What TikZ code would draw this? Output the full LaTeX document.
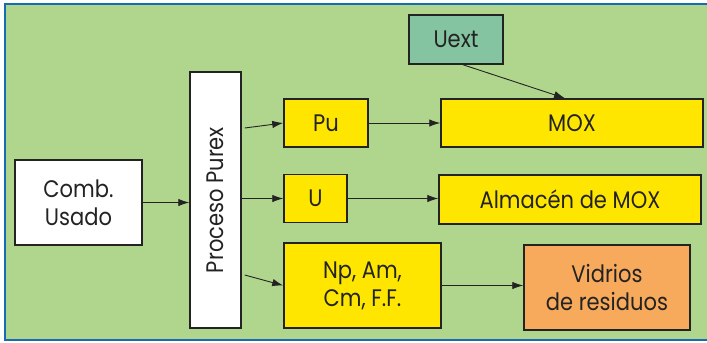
\documentclass[tikz,border=0pt]{standalone}
\usepackage{fontspec}
\setmainfont{Poppins}[FakeStretch=0.88]
\usepackage{tikz}
\usetikzlibrary{arrows.meta, positioning, calc}
\definecolor{bgFill}{RGB}{176,213,140}
\definecolor{frameBlue}{RGB}{22,108,178}
\definecolor{yellowFill}{RGB}{255,230,0}
\definecolor{orangeFill}{RGB}{248,170,92}
\definecolor{tealFill}{RGB}{132,196,160}
\definecolor{ink}{RGB}{35,35,35}
\tikzset{
  box/.style={
    draw=ink,
    line width=1.5bp,
    align=center,
    inner sep=0pt,
    font=\fontsize{24}{28}\selectfont,
    text=ink
  },
  whiteBox/.style={box, fill=white},
  yellowBox/.style={box, fill=yellowFill},
  orangeBox/.style={box, fill=orangeFill},
  tealBox/.style={box, fill=tealFill},
  flow/.style={-{Latex[length=11bp,width=7.5bp]}, line width=0.9bp, draw=ink}
}
\begin{document}
\begin{tikzpicture}[x=1bp, y=-1bp]
  \useasboundingbox (0,0) rectangle (707,342);
  \clip (0,0) rectangle (707,342);
  \draw[frameBlue, line width=2.5bp, fill=bgFill] (5,4) rectangle (720,340);

  \node[whiteBox, minimum width=127bp, minimum height=85bp] (comb) at (78.5,202.5) {Comb.\\Usado};
  \node[whiteBox, minimum width=51bp, minimum height=256bp] (purex) at (215.5,200) {};
  \node[box, draw=none, rotate=90] (purexText) at (purex.center) {Proceso Purex};

  \node[yellowBox, minimum width=84bp, minimum height=48bp] (pu) at (326,123) {Pu};
  \node[yellowBox, minimum width=63bp, minimum height=48bp] (u) at (315.5,198.5) {U};
  \node[yellowBox, minimum width=157bp, minimum height=85bp] (np) at (362.5,285.5) {Np, Am,\\Cm, F.F.};

  \node[tealBox, minimum width=94bp, minimum height=49bp] (uext) at (456,39.5) {Uext};
  \node[yellowBox, minimum width=262bp, minimum height=48bp] (mox) at (572,123) {MOX};
  \node[yellowBox, minimum width=262bp, minimum height=49bp] (almacen) at (570,199.5) {Almacén de MOX};
  \node[orangeBox, minimum width=166bp, minimum height=85bp] (vidrios) at (607,287.5) {Vidrios\\de residuos};

  \draw[flow] (comb.east) -- (comb.east -| purex.west);
  \draw[flow] ($(purex.east)+(3,-72)$) -- (pu.west);
  \draw[flow] ($(purex.east)+(0,-1.5)$) -- (u.west);
  \draw[flow] ($(purex.east)+(3,75)$) -- (np.west);
  \draw[flow] (pu.east) -- (mox.west);
  \draw[flow] (u.east) -- (u.east -| almacen.west);
  \draw[flow] (np.east) -- (np.east -| vidrios.west);
  \draw[flow] ($(uext.south)+(7,0)$) -- ($(mox.north)+(-7,0)$);
\end{tikzpicture}
\end{document}
